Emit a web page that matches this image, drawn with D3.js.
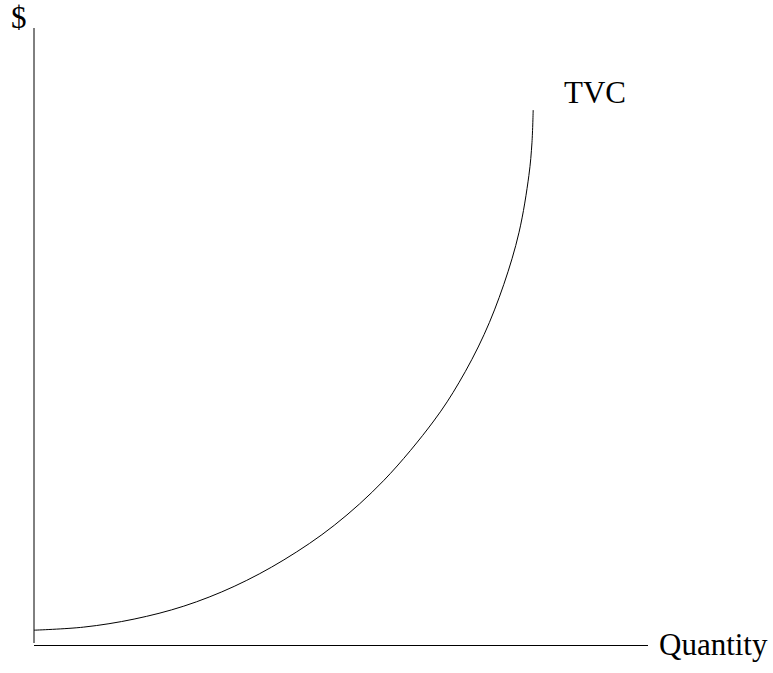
<!DOCTYPE html>
<html>
<head>
<meta charset="utf-8">
<script src="https://cdn.jsdelivr.net/npm/d3@7"></script>
<style>
	body { margin: 0; background: #fff; }
	text { font-family: 'Liberation Serif', 'Times New Roman', serif; font-size: 31px; fill: #000; }
</style>
</head>
<body>
<div id="chart"></div>
<script>
// Total variable cost curve (quantity 0-100, $ 0-100)
var quantity = [0, 8.1, 16.3, 24.4, 32.6, 40.7, 48.9, 57.0, 65.1, 69.2, 73.3, 76.5, 79.0, 80.6, 81.1, 81.3];
var tvc      = [2.4, 2.9, 4.2, 6.3, 9.5, 13.8, 19.4, 26.7, 36.3, 42.5, 50.3, 58.4, 66.9, 76.1, 81.4, 86.7];

var xLabel = 'Quantity';
var yLabel = '$';
var curveLabel = 'TVC';

var width = 773;
var height = 673;

var svg = d3.select('#chart')
	.append('svg')
	.attr('width', width)
	.attr('height', height);

var x = d3.scaleLinear().domain([0, 100]).range([34, 648]);
var y = d3.scaleLinear().domain([0, 100]).range([645, 28]);

// axes, no ticks
svg.append('line')
	.attr('x1', x(0)).attr('x2', x(0))
	.attr('y1', y(100)).attr('y2', y(0) - 2)
	.attr('stroke', '#000')
	.attr('stroke-width', 1);

svg.append('line')
	.attr('x1', x(0)).attr('x2', x(100))
	.attr('y1', y(0) + 0.5).attr('y2', y(0) + 0.5)
	.attr('stroke', '#000')
	.attr('stroke-width', 1);

var points = quantity.map(function(q, i) { return [q, tvc[i]]; });

var line = d3.line()
	.x(function(d) { return x(d[0]); })
	.y(function(d) { return y(d[1]); })
	.curve(d3.curveCatmullRom.alpha(0.5));

svg.append('path')
	.datum(points)
	.attr('d', line)
	.attr('fill', 'none')
	.attr('stroke', '#000')
	.attr('stroke-width', 1);

// labels
svg.append('text')
	.attr('x', 11)
	.attr('y', 28)
	.text(yLabel);

svg.append('text')
	.attr('x', 564)
	.attr('y', 103)
	.text(curveLabel);

svg.append('text')
	.attr('x', 659)
	.attr('y', 655)
	.text(xLabel);
</script>
</body>
</html>
